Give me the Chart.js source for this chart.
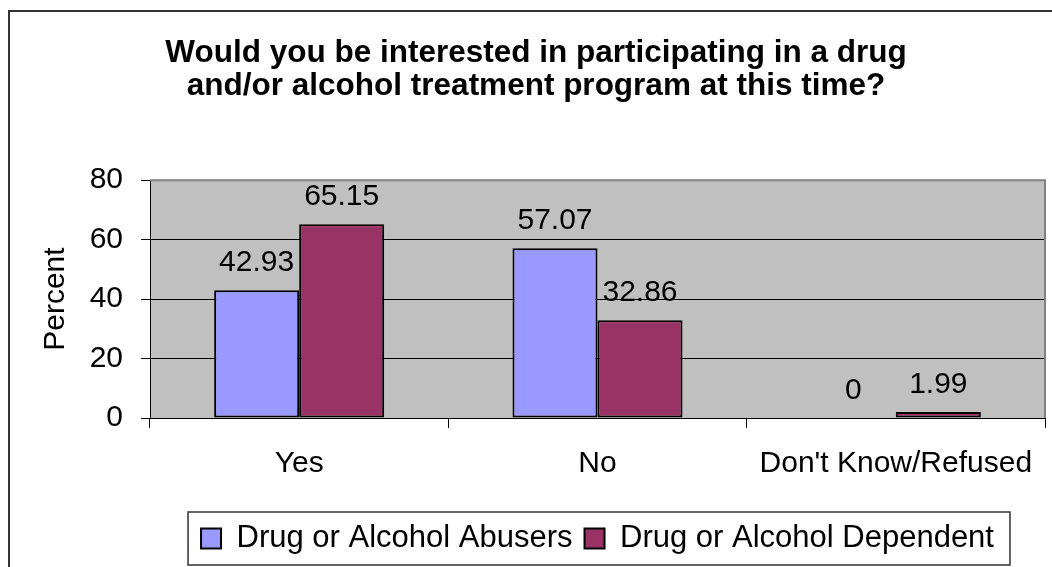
<!DOCTYPE html>
<html>
<head>
<meta charset="utf-8">
<title>Treatment program interest</title>
<script src="https://cdn.jsdelivr.net/npm/chart.js@4.4.1/dist/chart.umd.min.js"></script>
<style>
  html, body { margin: 0; padding: 0; background: #fff; }
  #wrap { width: 1052px; height: 567px; position: relative; }
</style>
</head>
<body>
<div id="wrap"><canvas id="treatmentChart"></canvas></div>
<script>
// answers and the two groups
const categories = ['Yes', 'No', "Don't Know/Refused"];
const abusers = [42.93, 57.07, 0];
const dependent = [65.15, 32.86, 1.99];
const yTicks = [0, 20, 40, 60, 80];

const FONT = '"Liberation Sans", Arial, sans-serif';

// outer frame, grey plot area and its grey top/right edge
const framePlugin = {
    id: 'frame',
    beforeDraw(chart) {
        const ctx = chart.ctx;
        const a = chart.chartArea;
        ctx.save();
        ctx.fillStyle = '#fff';
        ctx.fillRect(0, 0, chart.width, chart.height);
        ctx.strokeStyle = '#333';
        ctx.lineWidth = 2;
        ctx.strokeRect(9, 11, chart.width + 20, chart.height + 20);
        ctx.fillStyle = '#C0C0C0';
        ctx.fillRect(a.left, a.top, a.right - a.left, a.bottom - a.top);
        ctx.restore();
    },
    beforeDatasetsDraw(chart) {
        const ctx = chart.ctx;
        const a = chart.chartArea;
        ctx.save();
        ctx.strokeStyle = '#808080';
        ctx.lineWidth = 2;
        ctx.beginPath();
        ctx.moveTo(a.left, a.top);
        ctx.lineTo(a.right, a.top);
        ctx.lineTo(a.right, a.bottom);
        ctx.stroke();
        ctx.restore();
    },
    afterDraw(chart) {
        // box round the legend entries
        const boxes = chart.legend.legendHitBoxes;
        if (!boxes || !boxes.length) return;
        const first = boxes[0];
        const last = boxes[boxes.length - 1];
        const ctx = chart.ctx;
        ctx.save();
        ctx.strokeStyle = '#333';
        ctx.lineWidth = 1.5;
        ctx.strokeRect(first.left - 13, first.top - 11,
            last.left + last.width + 16 - (first.left - 13), first.height + 22);
        ctx.restore();
    }
};

// value printed above each bar
const valueLabels = {
    id: 'valueLabels',
    afterDatasetsDraw(chart) {
        const ctx = chart.ctx;
        ctx.save();
        ctx.font = '30px ' + FONT;
        ctx.fillStyle = '#000';
        ctx.textAlign = 'center';
        ctx.textBaseline = 'alphabetic';
        chart.data.datasets.forEach((ds, i) => {
            chart.getDatasetMeta(i).data.forEach((bar, j) => {
                ctx.fillText(String(ds.data[j]), bar.x, bar.y - 19);
            });
        });
        ctx.restore();
    }
};

document.addEventListener('DOMContentLoaded', function() {
    const ctx = document.getElementById('treatmentChart').getContext('2d');
    new Chart(ctx, {
        type: 'bar',
        data: {
            labels: categories,
            datasets: [{
                label: 'Drug or Alcohol Abusers',
                data: abusers,
                backgroundColor: '#9999FF',
                borderColor: '#000',
                borderWidth: 2,
                borderSkipped: false
            }, {
                label: 'Drug or Alcohol Dependent',
                data: dependent,
                backgroundColor: '#993366',
                borderColor: '#000',
                borderWidth: 2,
                borderSkipped: false
            }]
        },
        options: {
            responsive: true,
            maintainAspectRatio: false,
            animation: false,
            devicePixelRatio: 1,
            categoryPercentage: 0.57,
            barPercentage: 1.0,
            layout: { padding: { left: 27, right: 7, top: 12, bottom: 3 } },
            plugins: {
                title: {
                    display: true,
                    text: ['Would you be interested in participating in a drug',
                           'and/or alcohol treatment program at this time?'],
                    color: '#000',
                    font: { family: FONT, size: 31.5, weight: 'bold', lineHeight: 1.05 },
                    padding: { top: 25, bottom: 77 }
                },
                legend: {
                    position: 'bottom',
                    fullSize: false,
                    labels: {
                        color: '#000',
                        font: { family: FONT, size: 31 },
                        boxWidth: 20,
                        boxHeight: 20,
                        padding: 12
                    }
                },
                tooltip: { enabled: false }
            },
            scales: {
                x: {
                    grid: { drawOnChartArea: false, color: '#000', tickLength: 10 },
                    border: { color: '#000', width: 1 },
                    ticks: { color: '#000', font: { family: FONT, size: 30 }, padding: 18, maxRotation: 0, autoSkip: false },
                    afterFit(scale) { scale.height = 93; }
                },
                y: {
                    min: 0,
                    max: 80,
                    afterBuildTicks(scale) { scale.ticks = yTicks.map(v => ({ value: v })); },
                    grid: {
                        color: c => (c.tick && c.tick.value === 80) ? '#808080' : '#000',
                        tickColor: '#000',
                        tickLength: 9
                    },
                    border: { color: '#000', width: 1 },
                    ticks: { color: '#000', font: { family: FONT, size: 30 }, padding: 18 },
                    title: {
                        display: true,
                        text: 'Percent',
                        color: '#000',
                        font: { family: FONT, size: 30 },
                        padding: { top: 11, bottom: 0 }
                    },
                    afterFit(scale) { scale.width = 123; }
                }
            }
        },
        plugins: [framePlugin, valueLabels]
    });
});
</script>
</body>
</html>
